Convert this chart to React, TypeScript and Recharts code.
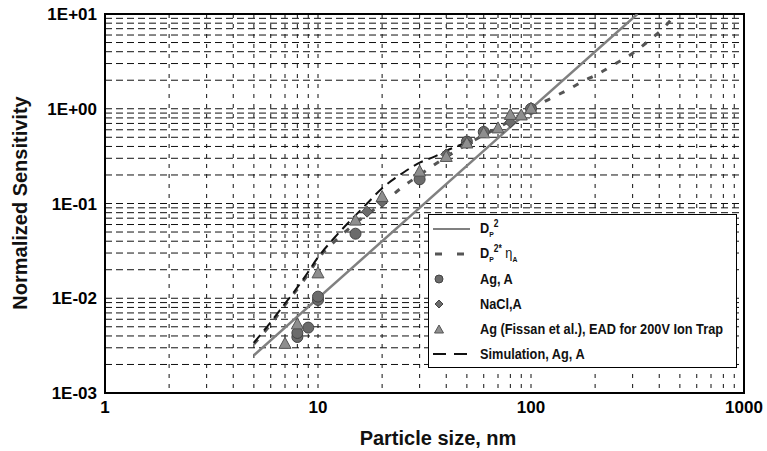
import {
  CartesianGrid,
  ComposedChart,
  Line,
  ReferenceArea,
  Scatter,
  XAxis,
  YAxis,
} from "recharts";

// Achsen-Raster (log): jede Dekade 1..9
const X_GRID = [
  1, 2, 3, 4, 5, 6, 7, 8, 9,
  10, 20, 30, 40, 50, 60, 70, 80, 90,
  100, 200, 300, 400, 500, 600, 700, 800, 900,
  1000,
];
const Y_GRID = [
  0.001, 0.002, 0.003, 0.004, 0.005, 0.006, 0.007, 0.008, 0.009,
  0.01, 0.02, 0.03, 0.04, 0.05, 0.06, 0.07, 0.08, 0.09,
  0.1, 0.2, 0.3, 0.4, 0.5, 0.6, 0.7, 0.8, 0.9,
  1, 2, 3, 4, 5, 6, 7, 8, 9,
  10,
];
const X_LABELS: Record<number, string> = { 1: "1", 10: "10", 100: "100", 1000: "1000" };
const Y_LABELS: Record<number, string> = {
  0.001: "1E-03",
  0.01: "1E-02",
  0.1: "1E-01",
  1: "1E+00",
  10: "1E+01",
};

// D_P^2
const DP2_X = [5, 316];
const DP2_Y = [0.0025, 10];

// D_P^2 * eta_A
const ETA_X = [5, 6, 7, 8, 9, 10, 12, 15, 20, 25, 30, 40, 50, 60, 70, 80, 100, 125, 150, 175, 200, 250, 300, 360, 410, 480];
const ETA_Y = [0.0033, 0.0053, 0.0085, 0.0125, 0.018, 0.026, 0.04, 0.062, 0.1, 0.15, 0.2, 0.31, 0.42, 0.53, 0.63, 0.75, 1.0, 1.3, 1.6, 1.95, 2.25, 3.0, 3.85, 5.3, 6.8, 10];

// Simulation, Ag, A
const SIM_X = [5, 6, 7, 8, 9, 10, 12, 15, 17, 20, 25, 30, 35, 40, 50];
const SIM_Y = [0.0034, 0.0056, 0.0088, 0.013, 0.019, 0.027, 0.044, 0.075, 0.1, 0.145, 0.21, 0.27, 0.31, 0.36, 0.44];

// Ag, A (Kreise)
const AG_X = [8, 8, 9, 10, 10, 15, 30, 50, 60, 100];
const AG_Y = [0.0039, 0.0043, 0.0049, 0.0096, 0.0104, 0.048, 0.18, 0.45, 0.57, 1.0];

// NaCl, A (Rauten)
const NACL_X = [17, 20, 40, 50, 80];
const NACL_Y = [0.082, 0.104, 0.33, 0.43, 0.72];

// Ag (Fissan et al.), EAD 200V Ion Trap (Dreiecke)
const FIS_X = [7, 8, 10, 15, 20, 30, 40, 50, 60, 70, 80, 90, 100];
const FIS_Y = [0.0033, 0.0053, 0.0183, 0.066, 0.117, 0.217, 0.31, 0.43, 0.55, 0.62, 0.86, 0.85, 1.0];

const FONT = "Arial, 'Liberation Sans', Helvetica, sans-serif";

const pts = (xs: number[], ys: number[]) => xs.map((x, i) => ({ x, y: ys[i] }));

const CIRCLE_FILL = "#6b6b6b";
const TRI_FILL = "#8e8e8e";
const LINE_GRAY = "#808080";
const DASH_GRAY = "#555555";

function CircleMark(p: any) {
  return <circle cx={p.cx} cy={p.cy} r={5.5} fill={CIRCLE_FILL} stroke="#444" strokeWidth={1} />;
}
function DiamondMark(p: any) {
  const { cx, cy } = p;
  return (
    <polygon
      points={`${cx},${cy - 5.5} ${cx + 5.5},${cy} ${cx},${cy + 5.5} ${cx - 5.5},${cy}`}
      fill={CIRCLE_FILL}
      stroke="#444"
      strokeWidth={1}
    />
  );
}
function TriangleMark(p: any) {
  const { cx, cy } = p;
  return (
    <polygon
      points={`${cx},${cy - 6.5} ${cx + 6},${cy + 4.5} ${cx - 6},${cy + 4.5}`}
      fill={TRI_FILL}
      stroke="#555"
      strokeWidth={1}
    />
  );
}

// schmale Schrift nachgebildet (keine Narrow-Variante installiert)
function Narrow({ children }: { children: React.ReactNode }) {
  return (
    <span
      style={{
        display: "inline-block",
        transform: "scaleX(0.85)",
        transformOrigin: "left center",
        fontFamily: FONT,
        fontWeight: "bold",
        fontSize: 15,
        color: "#111",
        whiteSpace: "nowrap",
      }}
    >
      {children}
    </span>
  );
}

function LegendBox() {
  const row: React.CSSProperties = { display: "flex", alignItems: "center", height: 25 };
  const icon = (el: React.ReactNode) => (
    <svg width={51} height={14} style={{ flex: "none" }}>
      {el}
    </svg>
  );
  return (
    <div
      style={{
        position: "absolute",
        left: 428,
        top: 214,
        width: 307,
        height: 151,
        border: "1px solid #000",
        background: "#fff",
        paddingTop: 1,
        boxSizing: "content-box",
      }}
    >
      <div style={row}>
        {icon(<line x1={4} x2={41} y1={7} y2={7} stroke={LINE_GRAY} strokeWidth={2} />)}
        <Narrow>
          D<sub style={{ fontSize: 8 }}>P</sub>
          <sup style={{ fontSize: 10 }}>2</sup>
        </Narrow>
      </div>
      <div style={row}>
        {icon(<line x1={6} x2={41} y1={7} y2={7} stroke={DASH_GRAY} strokeWidth={3} strokeDasharray="7 15" />)}
        <Narrow>
          D<sub style={{ fontSize: 8 }}>P</sub>
          <sup style={{ fontSize: 10 }}>2*</sup> <span style={{ fontWeight: "normal" }}>η</span>
          <sub style={{ fontSize: 8 }}>A</sub>
        </Narrow>
      </div>
      <div style={row}>
        {icon(<circle cx={10} cy={7} r={4} fill={CIRCLE_FILL} stroke="#444" />)}
        <Narrow>Ag, A</Narrow>
      </div>
      <div style={row}>
        {icon(<polygon points="10,3 14,7 10,11 6,7" fill={CIRCLE_FILL} stroke="#444" />)}
        <Narrow>NaCl,A</Narrow>
      </div>
      <div style={row}>
        {icon(<polygon points="10,3 14.5,11 5.5,11" fill={TRI_FILL} stroke="#555" />)}
        <Narrow>Ag (Fissan et al.), EAD for 200V Ion Trap</Narrow>
      </div>
      <div style={row}>
        {icon(<line x1={4} x2={44} y1={7} y2={7} stroke="#111" strokeWidth={2} strokeDasharray="13 8" />)}
        <Narrow>Simulation, Ag, A</Narrow>
      </div>
    </div>
  );
}

export default function App() {
  const tickStyle = { fill: "#000", fontSize: 17, fontWeight: "bold" as const, fontFamily: FONT };
  return (
    <div style={{ position: "absolute", left: 0, top: 0, width: 767, height: 451, background: "#fff", fontFamily: FONT }}>
      <ComposedChart width={767} height={451} margin={{ top: 14, right: 23, bottom: 0, left: 0 }}>
        <CartesianGrid horizontal={false} stroke="#111" strokeDasharray="4 6" />
        <CartesianGrid vertical={false} stroke="#111" strokeDasharray="7 4" />
        <XAxis
          dataKey="x"
          type="number"
          scale="log"
          domain={[1, 1000]}
          ticks={X_GRID}
          interval={0}
          allowDataOverflow
          tickFormatter={(v: number) => X_LABELS[v] ?? ""}
          tickLine={false}
          axisLine={{ stroke: "#000", strokeWidth: 2 }}
          tick={tickStyle}
          height={58}
          label={{
            content: () => (
              <text x={438} y={445} textAnchor="middle" fontSize={20} fontWeight="bold" fontFamily={FONT} fill="#111">
                Particle size, nm
              </text>
            ),
          }}
        />
        <YAxis
          dataKey="y"
          type="number"
          scale="log"
          domain={[0.001, 10]}
          ticks={Y_GRID}
          interval={0}
          allowDataOverflow
          tickFormatter={(v: number) => Y_LABELS[v] ?? ""}
          tickLine={false}
          axisLine={{ stroke: "#000", strokeWidth: 2 }}
          tick={tickStyle}
          width={105}
          label={{
            content: () => (
              <text
                transform="translate(27,203) rotate(-90)"
                textAnchor="middle"
                fontSize={20}
                fontWeight="bold"
                fontFamily={FONT}
                fill="#111"
              >
                Normalized Sensitivity
              </text>
            ),
          }}
        />
        <ReferenceArea x1={1} x2={1000} y1={0.001} y2={10} fill="none" stroke="#000" strokeWidth={2} ifOverflow="visible" />
        <Line data={pts(DP2_X, DP2_Y)} dataKey="y" type="linear" stroke={LINE_GRAY} strokeWidth={2.5} dot={false} isAnimationActive={false} />
        <Line
          data={pts(ETA_X, ETA_Y)}
          dataKey="y"
          type="monotone"
          stroke={DASH_GRAY}
          strokeWidth={3}
          strokeDasharray="6 10"
          dot={false}
          isAnimationActive={false}
        />
        <Line
          data={pts(SIM_X, SIM_Y)}
          dataKey="y"
          type="monotone"
          stroke="#111"
          strokeWidth={2}
          strokeDasharray="10 6"
          dot={false}
          isAnimationActive={false}
        />
        <Scatter data={pts(AG_X, AG_Y)} dataKey="y" shape={CircleMark} isAnimationActive={false} />
        <Scatter data={pts(NACL_X, NACL_Y)} dataKey="y" shape={DiamondMark} isAnimationActive={false} />
        <Scatter data={pts(FIS_X, FIS_Y)} dataKey="y" shape={TriangleMark} isAnimationActive={false} />
      </ComposedChart>
      <LegendBox />
    </div>
  );
}
